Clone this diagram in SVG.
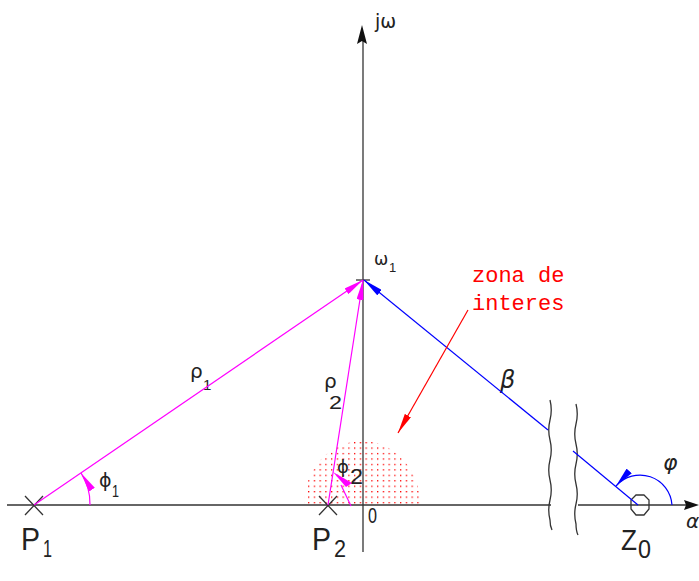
<svg xmlns="http://www.w3.org/2000/svg" width="699" height="581" viewBox="0 0 699 581">
<style>
.ax{stroke:#333;stroke-width:1.3;fill:none}
.mg{stroke:#ff00ff;stroke-width:1.2;fill:none}
.bl{stroke:#0000ff;stroke-width:1.2;fill:none}
.rd{stroke:#ff0000;stroke-width:1.2;fill:none}
.t{font-family:"Liberation Sans",Arial,sans-serif;fill:#222}
.g{font-family:"DejaVu Sans",sans-serif;fill:#222}
.red{font-family:"Liberation Mono","DejaVu Sans Mono",monospace;fill:#ff0000;font-size:22px}
</style>
<defs>
<marker id="am" viewBox="0 0 20 7" refX="20" refY="3.5" markerWidth="20" markerHeight="7" markerUnits="userSpaceOnUse" orient="auto"><path d="M0,0 L20,3.5 L0,7 Z" fill="#ff00ff"/></marker>
<marker id="ab" viewBox="0 0 20 7" refX="20" refY="3.5" markerWidth="20" markerHeight="7" markerUnits="userSpaceOnUse" orient="auto"><path d="M0,0 L20,3.5 L0,7 Z" fill="#0000ff"/></marker>
<marker id="ar" viewBox="0 0 20 7" refX="20" refY="3.5" markerWidth="20" markerHeight="7" markerUnits="userSpaceOnUse" orient="auto"><path d="M0,0 L20,3.5 L0,7 Z" fill="#ff0000"/></marker>
<pattern id="dots" x="308" y="442" width="5.75" height="5.45" patternUnits="userSpaceOnUse"><rect x="0" y="0" width="1.3" height="1.3" fill="#ff0000"/></pattern>
<clipPath id="semi"><path d="M304,504 A58,63 0 0 1 420,504 Z"/></clipPath>
</defs>

<g id="zone">
<rect x="300" y="438" width="125" height="68" fill="url(#dots)" clip-path="url(#semi)"/>
</g>

<g id="axes">
<line class="ax" x1="7" y1="505" x2="551" y2="505"/>
<line class="ax" x1="578" y1="505" x2="690" y2="505"/>
<polygon points="699,505 684,500 686,505 684,510" fill="#111"/>
<line class="ax" x1="363" y1="40" x2="363" y2="552"/>
<polygon points="362,25 357,44 362,41 367,44" fill="#111"/>
<path class="ax" d="M550,400 q2.5,10 0,20 t0,20 t0,20 t0,20 t0,20 t0,20 q0,6 2,10"/>
<path class="ax" d="M576,404 q2.5,10 0,20 t0,20 t0,20 t0,20 t0,20 t0,20 q0,7 2,11"/>
</g>

<g id="P1">
<path class="ax" d="M25,496 L43,515 M25,515 L43,496"/>
<text class="t" x="21" y="550" font-size="32" textLength="19" lengthAdjust="spacingAndGlyphs">P</text>
<text class="t" x="43" y="557" font-size="24" textLength="9" lengthAdjust="spacingAndGlyphs">1</text>
</g>

<g id="P2">
<path class="ax" d="M319,496 L337,515 M319,515 L337,496"/>
<text class="t" x="312" y="550" font-size="32" textLength="19" lengthAdjust="spacingAndGlyphs">P</text>
<text class="t" x="334" y="557" font-size="24" textLength="12" lengthAdjust="spacingAndGlyphs">2</text>
</g>

<g id="Z0">
<polygon class="ax" points="644,495 649,500 649,509 644,515 636,515 631,509 631,500 636,495"/>
<text class="t" x="621" y="550" font-size="30" textLength="16" lengthAdjust="spacingAndGlyphs">Z</text>
<text class="t" x="638" y="558" font-size="25" textLength="13" lengthAdjust="spacingAndGlyphs">0</text>
</g>

<g id="omega1">
<line class="ax" x1="356" y1="280" x2="370" y2="280"/>
<text class="g" x="374" y="265" font-size="17">ω</text>
<text class="t" x="389" y="272" font-size="13">1</text>
</g>

<g id="labels">
<text class="g" x="375" y="28" font-size="19">jω</text>
<text class="t" x="368" y="523" font-size="22" textLength="9" lengthAdjust="spacingAndGlyphs">0</text>
<text class="g" x="190" y="378" font-size="20">ρ</text>
<text class="t" x="203" y="390" font-size="15">1</text>
<text class="g" x="324" y="388" font-size="20">ρ</text>
<text class="t" x="329" y="409" font-size="18" textLength="13" lengthAdjust="spacingAndGlyphs">2</text>
<text class="g" x="500" y="388" font-size="24" font-style="italic">β</text>
<text class="g" x="99" y="487" font-size="19">ϕ</text>
<text class="t" x="112" y="497" font-size="17" textLength="7" lengthAdjust="spacingAndGlyphs">1</text>
<text class="g" x="337" y="473" font-size="18">ϕ</text>
<text class="t" x="350" y="484" font-size="22" textLength="13" lengthAdjust="spacingAndGlyphs">2</text>
<text class="g" x="663" y="470" font-size="22" font-style="italic">φ</text>
<text class="g" x="686" y="528" font-size="20" font-style="italic">α</text>
</g>

<g id="note">
<text class="red" x="472" y="282">zona de</text>
<text class="red" x="472" y="310">interes</text>
</g>

<g id="connectors">
<line class="mg" x1="34" y1="505" x2="363" y2="280" marker-end="url(#am)"/>
<line class="mg" x1="328" y1="505" x2="363" y2="280" marker-end="url(#am)"/>
<line class="bl" x1="548" y1="430" x2="364" y2="280" marker-end="url(#ab)"/>
<line class="bl" x1="573" y1="451" x2="638" y2="505"/>
<path class="mg" d="M90,505 A56,56 0 0 0 81,473" marker-end="url(#am)"/>
<path class="mg" d="M351,506 L341,485" />
<polygon points="333,472 352,483 346,487" fill="#ff00ff"/>
<path class="bl" d="M672,505 A32,32 0 0 0 616,486" marker-end="url(#ab)"/>
<line class="rd" x1="468" y1="310" x2="398" y2="433" marker-end="url(#ar)"/>
</g>
</svg>
